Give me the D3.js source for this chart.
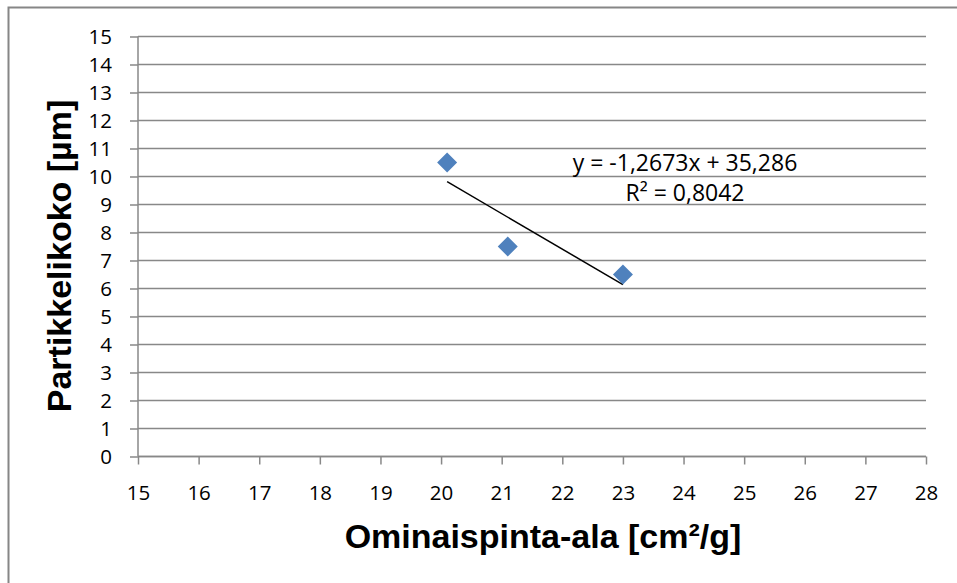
<!DOCTYPE html>
<html>
<head>
<meta charset="utf-8">
<script src="https://cdn.jsdelivr.net/npm/d3@7"></script>
<style>
  body { margin: 0; background: #fff; }
  svg { display: block; }
</style>
</head>
<body>
<div id="chart"></div>
<script>
// data
var xValues = [20.1, 21.1, 23];
var yValues = [10.5, 7.5, 6.5];
var xTicks = d3.range(15, 29, 1);
var yTicks = d3.range(0, 16, 1);
var xTitle = "Ominaispinta-ala [cm²/g]";
var yTitle = "Partikkelikoko [µm]";

var width = 957, height = 583;
var plot = { left: 138, right: 926, top: 36.5, bottom: 456.5 };
var gridColor = "#888888";
var labelFont = "'Open Sans', 'Liberation Sans', sans-serif";
var titleFont = "'Liberation Sans', Arial, sans-serif";

var svg = d3.select("#chart").append("svg")
  .attr("width", width)
  .attr("height", height);

// outer chart frame (right/bottom edges run off the picture)
svg.append("rect")
  .attr("x", 8.5).attr("y", 7.5)
  .attr("width", width + 20).attr("height", height + 20)
  .attr("fill", "#fff")
  .attr("stroke", "#868686")
  .attr("stroke-width", 2);

var x = d3.scaleLinear().domain([15, 28]).range([plot.left, plot.right]);
var y = d3.scaleLinear().domain([0, 15]).range([plot.bottom, plot.top]);

// horizontal gridlines
svg.append("g")
  .selectAll("line")
  .data(yTicks)
  .enter().append("line")
  .attr("x1", plot.left).attr("x2", plot.right)
  .attr("y1", function(d) { return y(d); })
  .attr("y2", function(d) { return y(d); })
  .attr("stroke", gridColor)
  .attr("stroke-width", 1.5);

// y axis
var yAxis = svg.append("g")
  .attr("transform", "translate(" + plot.left + ",0)")
  .call(d3.axisLeft(y).tickValues(yTicks).tickSize(8).tickFormat(d3.format("d")));
yAxis.selectAll("line").attr("stroke", gridColor).attr("stroke-width", 1.5);
yAxis.select(".domain").attr("stroke", gridColor).attr("stroke-width", 1.5).attr("d", "M0," + plot.top + "V" + plot.bottom);
yAxis.selectAll("text")
  .attr("x", -26).attr("dy", "0.36em")
  .style("font-family", labelFont).style("font-size", "20.5px").style("fill", "#000");

// x axis
var xAxis = svg.append("g")
  .attr("transform", "translate(0," + plot.bottom + ")")
  .call(d3.axisBottom(x).tickValues(xTicks).tickSize(8).tickFormat(d3.format("d")));
xAxis.selectAll("line").attr("stroke", gridColor).attr("stroke-width", 1.5);
xAxis.select(".domain").attr("stroke", gridColor).attr("stroke-width", 1.5).attr("d", "M" + plot.left + ",0H" + plot.right);
xAxis.selectAll("text")
  .attr("y", 43.5).attr("dy", 0)
  .style("font-family", labelFont).style("font-size", "20.5px").style("fill", "#000");

// linear trendline (least squares)
var n = xValues.length;
var mx = d3.mean(xValues), my = d3.mean(yValues);
var sxy = 0, sxx = 0, syy = 0;
for (var i = 0; i < n; i++) {
  sxy += (xValues[i] - mx) * (yValues[i] - my);
  sxx += (xValues[i] - mx) * (xValues[i] - mx);
  syy += (yValues[i] - my) * (yValues[i] - my);
}
var slope = sxy / sxx;
var intercept = my - slope * mx;
var r2 = (sxy * sxy) / (sxx * syy);
var xMin = d3.min(xValues), xMax = d3.max(xValues);

svg.append("line")
  .attr("x1", x(xMin)).attr("y1", y(slope * xMin + intercept))
  .attr("x2", x(xMax)).attr("y2", y(slope * xMax + intercept))
  .attr("stroke", "#000")
  .attr("stroke-width", 1.5);

// diamond markers
var diamond = d3.symbol().type(d3.symbolSquare).size(200);
svg.append("g")
  .selectAll("path")
  .data(xValues.map(function(d, i) { return { x: d, y: yValues[i] }; }))
  .enter().append("path")
  .attr("d", diamond)
  .attr("transform", function(d) { return "translate(" + x(d.x) + "," + y(d.y) + ") rotate(45)"; })
  .attr("fill", "#4F81BD");

// equation label
function fmt(v, digits) { return v.toFixed(digits).replace(".", ","); }
var eqX = 685;
svg.append("text")
  .attr("x", eqX).attr("y", 171)
  .attr("text-anchor", "middle")
  .style("font-family", labelFont)
  .style("font-size", "23px")
  .text("y = " + fmt(slope, 4) + "x + " + fmt(intercept, 3));
svg.append("text")
  .attr("x", eqX).attr("y", 201)
  .attr("text-anchor", "middle")
  .style("font-family", labelFont)
  .style("font-size", "23px")
  .text("R² = " + fmt(r2, 4));

// axis titles
svg.append("text")
  .attr("x", 543).attr("y", 548)
  .attr("text-anchor", "middle")
  .style("font-family", titleFont)
  .style("font-weight", "bold")
  .style("font-size", "34px")
  .text(xTitle);

svg.append("text")
  .attr("transform", "translate(71,256) rotate(-90)")
  .attr("text-anchor", "middle")
  .style("font-family", titleFont)
  .style("font-weight", "bold")
  .style("font-size", "34px")
  .text(yTitle);
</script>
</body>
</html>
